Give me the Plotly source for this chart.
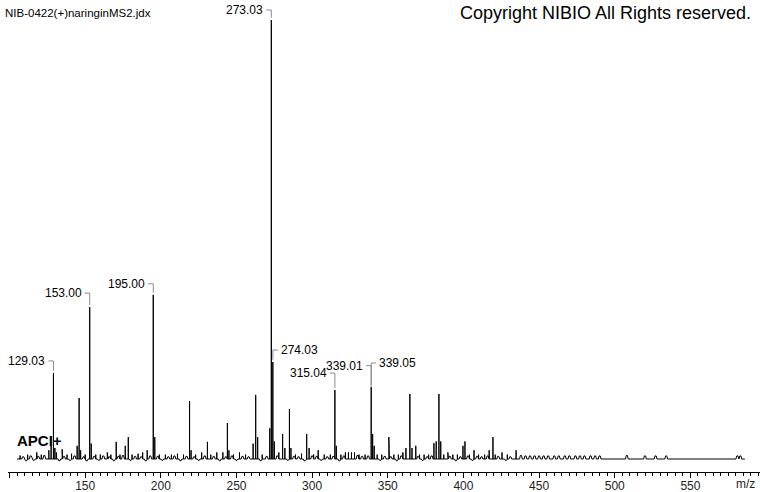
import plotly.graph_objects as go

# ---------------- data ----------------
peak_mz = [107.0, 112.0, 118.0, 121.0, 126.0, 127.5, 129.03, 130.0, 131.0, 134.8,
           138.0, 141.0, 144.7, 146.0, 147.0, 150.0, 153.00, 154.0, 157.0, 160.0,
           164.6, 167.0, 170.5, 173.0, 176.5, 178.5, 181.0, 185.0, 188.0, 191.0,
           195.00, 196.0, 199.0, 203.0, 207.0, 211.0, 215.0, 219.0, 220.0, 223.0,
           227.0, 230.8, 233.0, 237.0, 241.0, 244.0, 245.0, 248.0, 252.0, 256.0,
           261.0, 262.7, 264.0, 267.0, 272.0, 273.03, 274.03, 275.0, 278.0, 280.5,
           282.0, 285.0, 286.0, 289.0, 293.0, 296.4, 298.0, 301.0, 304.0, 308.0,
           312.0, 315.04, 316.0, 319.0, 322.0, 324.0, 326.0, 328.0, 331.0, 335.0,
           339.01, 339.05, 340.0, 341.0, 343.0, 346.0, 350.7, 354.0, 357.0, 360.0,
           362.0, 364.6, 366.0, 368.5, 371.0, 374.0, 377.0, 380.5, 382.0, 383.8,
           385.0, 387.0, 389.7, 393.0, 396.0, 399.7, 401.0, 404.0, 407.0, 410.0,
           414.0, 417.0, 419.5, 421.0, 425.5, 429.0, 434.8]
peak_int = [0.8, 1.0, 1.5, 1.0, 2.0, 3.0, 19.6, 2.5, 1.5, 2.2,
            1.0, 1.2, 3.0, 13.9, 2.0, 1.0, 34.6, 3.5, 1.0, 1.0,
            1.5, 1.0, 3.9, 1.0, 3.0, 5.0, 1.0, 1.2, 1.5, 2.0,
            37.4, 5.0, 1.0, 1.0, 1.0, 1.2, 1.0, 13.2, 2.0, 1.0,
            1.5, 3.9, 1.0, 1.5, 1.5, 8.2, 2.0, 1.0, 1.5, 1.0,
            3.5, 14.6, 5.0, 1.0, 7.0, 100.0, 22.1, 4.0, 1.5, 5.7,
            2.5, 11.4, 2.5, 1.0, 1.2, 5.7, 2.5, 1.0, 2.0, 1.0,
            1.0, 15.7, 3.0, 1.0, 1.5, 1.5, 1.5, 1.5, 1.0, 1.0,
            15.8, 16.4, 5.7, 3.0, 1.0, 1.0, 5.0, 1.0, 1.0, 1.5,
            2.5, 14.8, 2.5, 3.0, 1.0, 1.0, 1.0, 3.6, 4.0, 14.8,
            4.0, 1.0, 1.5, 1.0, 1.0, 3.0, 4.0, 1.0, 2.0, 1.0,
            1.0, 2.0, 5.0, 1.0, 1.5, 1.0, 2.0]

# baseline noise bumps
noise_mz = [109, 111, 114, 116, 119, 123, 133, 136, 140, 143, 149, 151, 156, 159,
            162, 166, 169, 172, 175, 180, 183, 187, 190, 193, 198, 201, 205, 209,
            213, 217, 222, 225, 229, 235, 239, 243, 247, 250, 254, 258, 266, 270,
            277, 284, 288, 291, 295, 300, 303, 306, 310, 314, 318, 321, 330, 333,
            337, 345, 348, 352, 356, 359, 370, 373, 376, 379, 391, 395, 398, 403,
            406, 409, 412, 416, 423, 428, 431, 438, 441, 444, 447, 450, 453, 456,
            460, 463, 467, 470, 474, 477, 480, 484, 487, 490, 508, 520, 527, 534,
            581, 583]
noise_int = [0.5, -0.4, 0.7, -0.3, 0.6, 0.8, -0.4, 0.6, -0.3, 0.7, 0.5, -0.4, 0.6, -0.3,
             0.7, 0.5, -0.4, 0.6, 0.8, -0.3, 0.6, 0.5, -0.4, 0.7, 0.6, -0.3, 0.5, 0.7,
             -0.4, 0.6, 0.5, -0.3, 0.7, 0.6, -0.4, 0.5, 0.7, -0.3, 0.6, 0.5, -0.4, 0.6,
             0.7, -0.3, 0.6, 0.5, -0.4, 0.7, 0.6, -0.3, 0.5, 0.6, -0.4, 0.7, 0.8, 0.6,
             0.7, -0.3, 0.6, 0.5, -0.4, 0.7, 0.6, -0.3, 0.5, 0.7, 0.6, -0.4, 0.5, 0.7,
             -0.3, 0.6, 0.5, 0.7, 0.6, -0.3, 0.5, 0.8, 0.7, 0.7, 0.7, 0.7, 0.7, 0.7,
             0.7, 0.7, 0.7, 0.7, 0.7, 0.7, 0.7, 0.7, 0.7, 0.7, 0.8, 0.7, 0.7, 0.7,
             0.7, 0.7]

baseline_start = 105.0
baseline_end = 586.0

label_mz = [129.03, 153.00, 195.00, 273.03, 274.03, 315.04, 339.01, 339.05]
label_int = [19.6, 34.6, 37.4, 100.0, 22.1, 15.7, 15.8, 16.4]

title_text = "NIB-0422(+)naringinMS2.jdx"
copyright_text = "Copyright NIBIO All Rights reserved."
mode_text = "APCI+"
x_unit = "m/z"

# ---------------- layout constants ----------------
W, H = 760, 492
L, R, T, B = 8, 0, 5, 20
X0, X1 = 99.0, 596.0
PX_PER_INT = 4.39
Y0 = -(472 - 459) / PX_PER_INT
Y1 = Y0 + (H - T - B) / PX_PER_INT
px_x = (X1 - X0) / (W - L - R)        # m/z per pixel
px_y = 1.0 / PX_PER_INT               # intensity per pixel
FONT = "Liberation Sans, Arial, sans-serif"

# label layout: side and rise (px) per label
label_side = ["l", "l", "l", "l", "r", "l", "l", "r"]
label_rise = [12, 14, 11, 10, 12, 17, 24, 24]

# ---------------- build profile ----------------
events = [(m, h, 0) for m, h in zip(peak_mz, peak_int)] + \
         [(m, h, 1) for m, h in zip(noise_mz, noise_int)]
events.sort(key=lambda e: e[0])
xs, ys = [baseline_start], [0.0]
for m, h, kind in events:
    if kind == 0:
        xs += [m, m, m]
        ys += [0.0, h, 0.0]
    else:
        xs += [m - 0.9, m - 0.4, m + 0.4, m + 0.9]
        ys += [0.0, h, h, 0.0]
xs.append(baseline_end)
ys.append(0.0)

fig = go.Figure()
fig.add_trace(go.Scatter(x=xs, y=ys, mode="lines",
                         line=dict(color="black", width=1),
                         hoverinfo="skip", showlegend=False))

# label brackets
bx, by = [], []
annotations = []
for m, h, side, rise in zip(label_mz, label_int, label_side, label_rise):
    ytop = h + rise * px_y
    dx = 5 * px_x * (-1 if side == "l" else 1)
    bx += [m, m, m + dx, None]
    by += [h + 0.5, ytop, ytop, None]
    annotations.append(dict(
        x=m + dx + (-1 if side == "l" else 1) * 1 * px_x, y=ytop,
        xref="x", yref="y", text=f"{m:.2f}", showarrow=False,
        xanchor="right" if side == "l" else "left", yanchor="middle",
        font=dict(family=FONT, size=12, color="black")))

fig.add_trace(go.Scatter(x=bx, y=by, mode="lines",
                         line=dict(color="#8c8c8c", width=1),
                         hoverinfo="skip", showlegend=False))

pw = W - L - R
ph = H - T - B
def px2paper_x(px):
    return (px - L) / pw
def px2paper_y(py):
    return (H - B - py) / ph

annotations += [
    dict(x=px2paper_x(3), y=px2paper_y(13), xref="paper", yref="paper",
         text=title_text, showarrow=False, xanchor="left", yanchor="middle",
         font=dict(family=FONT, size=11.5, color="black")),
    dict(x=px2paper_x(753), y=px2paper_y(13), xref="paper", yref="paper",
         text=copyright_text, showarrow=False, xanchor="right", yanchor="middle",
         font=dict(family=FONT, size=18, color="black")),
    dict(x=px2paper_x(15), y=px2paper_y(440), xref="paper", yref="paper",
         text=f"<b>{mode_text}</b>", showarrow=False, xanchor="left", yanchor="middle",
         font=dict(family=FONT, size=15, color="black")),
    dict(x=px2paper_x(757), y=px2paper_y(484), xref="paper", yref="paper",
         text=x_unit, showarrow=False, xanchor="right", yanchor="middle",
         font=dict(family=FONT, size=12, color="#222")),
]

fig.update_layout(
    width=W, height=H,
    margin=dict(l=L, r=R, t=T, b=B, pad=0, autoexpand=False),
    paper_bgcolor="white", plot_bgcolor="white",
    showlegend=False,
    annotations=annotations,
    xaxis=dict(range=[X0, X1], showgrid=False, zeroline=False, automargin=False,
               showline=True, linecolor="black", linewidth=1,
               ticks="outside", ticklen=5, tickcolor="black", tickwidth=1,
               tick0=0, dtick=50, ticklabelstandoff=-2,
               tickfont=dict(family=FONT, size=12, color="#222"),
               minor=dict(dtick=5, tick0=0, ticks="outside", ticklen=3,
                          tickcolor="black", tickwidth=1, showgrid=False),
               fixedrange=True),
    yaxis=dict(range=[Y0, Y1], visible=False, fixedrange=True, automargin=False),
)

fig.write_html("out.html",
               config={"displayModeBar": False, "staticPlot": True},
               post_script="document.body.style.margin='0';document.body.style.padding='0';document.body.style.overflow='hidden';")
